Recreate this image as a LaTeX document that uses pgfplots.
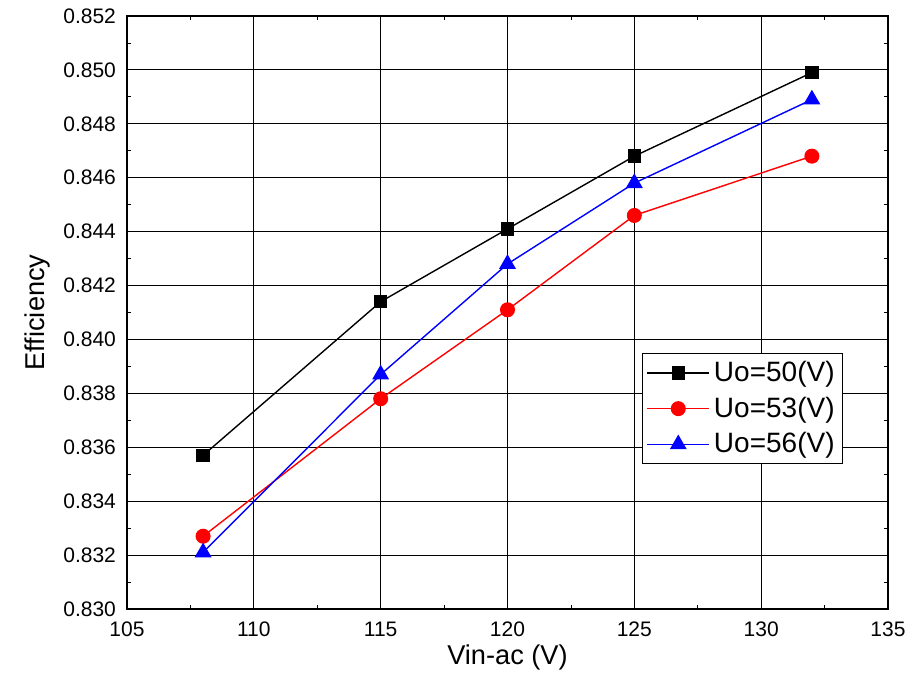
\documentclass[border=0pt]{standalone}
\usepackage{pgfplots}
\pgfplotsset{compat=1.18}
\usepackage{fontspec}
\setmainfont{Liberation Sans}
\begin{document}
\begin{tikzpicture}
\useasboundingbox (-63.5pt,-37.5pt) rectangle (397pt,304.5pt);
\begin{axis}[
  scale only axis,
  width=380.5pt, height=296.5pt,
  xmin=105, xmax=135, ymin=0.830, ymax=0.852,
  xtick={105,110,115,120,125,130,135},
  ytick={0.830,0.832,0.834,0.836,0.838,0.840,0.842,0.844,0.846,0.848,0.850,0.852},
  minor tick num=1,
  yticklabel style={/pgf/number format/fixed, /pgf/number format/fixed zerofill, /pgf/number format/precision=3, xshift=-2pt},
  /pgf/number format/assume math mode=true,
  grid=major,
  major grid style={black, line width=0.5pt},
  major tick length=0pt,
  minor tick length=2pt,
  minor tick style={black, line width=0.4pt},
  tick align=inside,
  axis line style={black, line width=0.8pt},
  tick label style={font=\fontsize{10.5}{12}\selectfont},
  label style={font=\fontsize{13.6}{15}\selectfont},
  xticklabel style={yshift=-3pt},
  xlabel={Vin-ac (V)},
  ylabel={Efficiency},
  xlabel style={yshift=3pt},
  ylabel style={yshift=0pt},
  legend style={at={(0.941,0.432)}, anchor=north east, draw=black, line width=0.5pt,
    font=\fontsize{14}{17}\selectfont, row sep=2.2pt, inner sep=2pt},
  legend cell align=left,
  legend image code/.code={\draw[mark repeat=2,mark phase=2] plot coordinates {(0pt,0pt)(15.5pt,0pt)(31pt,0pt)};},
]
\addplot[black, line width=0.7pt, mark=square*, mark size=3pt, mark options={fill=black, solid}] coordinates {
(108,0.8357) (115,0.8414) (120,0.8441) (125,0.8468) (132,0.8499)};
\addlegendentry{Uo=50(V)}
\addplot[red, line width=0.7pt, mark=*, mark size=3.4pt, mark options={fill=red, solid}] coordinates {
(108,0.8327) (115,0.8378) (120,0.8411) (125,0.8446) (132,0.8468)};
\addlegendentry{Uo=53(V)}
\addplot[blue, line width=0.7pt, mark=triangle*, mark size=4.2pt, mark options={fill=blue, solid}] coordinates {
(108,0.8321) (115,0.8387) (120,0.8428) (125,0.8458) (132,0.8489)};
\addlegendentry{Uo=56(V)}
\end{axis}
\end{tikzpicture}
\end{document}
